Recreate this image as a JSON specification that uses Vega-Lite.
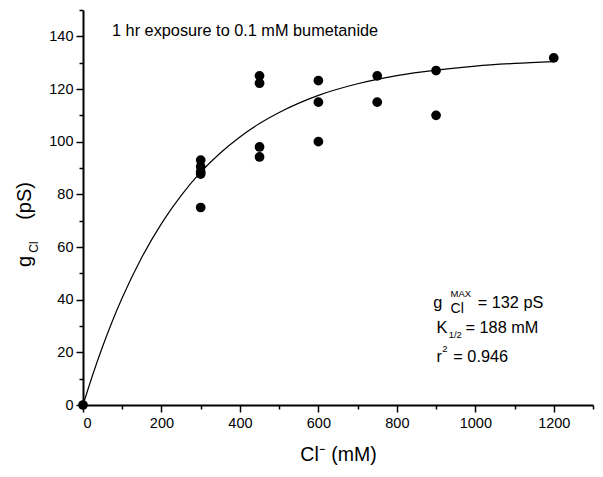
{
  "$schema": "https://vega.github.io/schema/vega-lite/v6.json",
  "width": 510,
  "height": 395,
  "autosize": "none",
  "padding": {"left": 83, "top": 10, "right": 10, "bottom": 72},
  "background": "white",
  "config": {"view": {"stroke": null}, "font": "Liberation Sans"},
  "datasets": {
    "pts": [
      {"cl": 0, "g": 0},
      {"cl": 300, "g": 93}, {"cl": 300, "g": 90.5}, {"cl": 300, "g": 88.5}, {"cl": 300, "g": 87.7}, {"cl": 300, "g": 75},
      {"cl": 450, "g": 125}, {"cl": 450, "g": 122.2}, {"cl": 450, "g": 98}, {"cl": 450, "g": 94.2},
      {"cl": 600, "g": 123.2}, {"cl": 600, "g": 115}, {"cl": 600, "g": 100},
      {"cl": 750, "g": 125}, {"cl": 750, "g": 115},
      {"cl": 900, "g": 127}, {"cl": 900, "g": 110},
      {"cl": 1200, "g": 131.8}
    ],
    "fit": [
      {"cl": 0, "g": 0}, {"cl": 25, "g": 11.6}, {"cl": 50, "g": 22.2}, {"cl": 75, "g": 31.9},
      {"cl": 100, "g": 40.7}, {"cl": 150, "g": 56.1}, {"cl": 200, "g": 68.9}, {"cl": 250, "g": 79.5},
      {"cl": 300, "g": 88.4}, {"cl": 350, "g": 95.7}, {"cl": 400, "g": 101.8}, {"cl": 450, "g": 106.9},
      {"cl": 500, "g": 111.1}, {"cl": 600, "g": 117.6}, {"cl": 700, "g": 122.0}, {"cl": 800, "g": 125.1},
      {"cl": 900, "g": 127.2}, {"cl": 1000, "g": 128.7}, {"cl": 1100, "g": 129.7}, {"cl": 1200, "g": 130.4}
    ],
    "ann": [
      {"kind": "main", "cl": 74, "g": 140, "t": "1 hr exposure to 0.1 mM bumetanide"},
      {"kind": "main", "cl": 893, "g": 36.8, "t": "g"},
      {"kind": "main", "cl": 1006, "g": 36.8, "t": "= 132 pS"},
      {"kind": "main", "cl": 901, "g": 27.3, "t": "K"},
      {"kind": "main", "cl": 975, "g": 27.3, "t": "= 188 mM"},
      {"kind": "main", "cl": 901, "g": 16.3, "t": "r"},
      {"kind": "main", "cl": 944, "g": 16.3, "t": "= 0.946"},
      {"kind": "mid", "cl": 937, "g": 34.9, "t": "Cl"},
      {"kind": "small", "cl": 937, "g": 41.0, "t": "MAX"},
      {"kind": "small", "cl": 932, "g": 25.4, "t": "1/2"},
      {"kind": "small", "cl": 916, "g": 20.1, "t": "2"}
    ],
    "ytitle": [
      {"kind": "big", "cl": -148, "g": 54.5, "t": "g"},
      {"kind": "sub", "cl": -126, "g": 60, "t": "Cl"},
      {"kind": "big", "cl": -148, "g": 77.5, "t": "(pS)"}
    ]
  },
  "layer": [
    {
      "data": {"name": "fit"},
      "mark": {"type": "line", "color": "black", "strokeWidth": 1.2, "interpolate": "monotone"},
      "encoding": {
        "x": {"field": "cl", "type": "quantitative", "scale": {"domain": [0, 1300], "nice": false},
          "axis": {"orient": "bottom", "values": [100, 300, 500, 700, 900, 1100, 1300], "labels": false, "domain": false, "grid": false, "ticks": true, "tickSize": 4, "tickWidth": 1.5, "tickColor": "black", "title": null}},
        "y": {"field": "g", "type": "quantitative", "scale": {"domain": [0, 150], "nice": false},
          "axis": {"orient": "left", "values": [10, 30, 50, 70, 90, 110, 130, 150], "labels": false, "domain": false, "grid": false, "tickSize": 4, "tickWidth": 1.5, "tickColor": "black", "title": null}}
      }
    },
    {
      "data": {"name": "pts"},
      "mark": {"type": "point", "filled": true, "color": "black", "opacity": 1, "size": 95, "shape": "circle"},
      "encoding": {
        "x": {"field": "cl", "type": "quantitative",
          "axis": {"orient": "bottom", "values": [0, 200, 400, 600, 800, 1000, 1200], "format": "d", "grid": false, "domainColor": "black", "domainWidth": 2, "tickColor": "black", "tickWidth": 1.5, "tickSize": 7, "labelFontSize": 14.5, "labelColor": "black", "labelPadding": 4, "title": "Cl⁻ (mM)", "titleFontSize": 19.5, "titleFontWeight": "normal", "titleColor": "black", "titlePadding": 16}},
        "y": {"field": "g", "type": "quantitative",
          "axis": {"orient": "left", "values": [0, 20, 40, 60, 80, 100, 120, 140], "format": "d", "grid": false, "domainColor": "black", "domainWidth": 2, "tickColor": "black", "tickWidth": 1.5, "tickSize": 7, "labelFontSize": 14.5, "labelColor": "black", "labelPadding": 3, "title": null}}
      }
    },
    {
      "data": {"name": "ann"},
      "transform": [{"filter": "datum.kind == 'main'"}],
      "mark": {"type": "text", "align": "left", "baseline": "alphabetic", "fontSize": 16.3, "color": "black"},
      "encoding": {
        "x": {"field": "cl", "type": "quantitative", "axis": null},
        "y": {"field": "g", "type": "quantitative", "axis": null},
        "text": {"field": "t"}
      }
    },
    {
      "data": {"name": "ann"},
      "transform": [{"filter": "datum.kind == 'mid'"}],
      "mark": {"type": "text", "align": "left", "baseline": "alphabetic", "fontSize": 14, "color": "black"},
      "encoding": {
        "x": {"field": "cl", "type": "quantitative", "axis": null},
        "y": {"field": "g", "type": "quantitative", "axis": null},
        "text": {"field": "t"}
      }
    },
    {
      "data": {"name": "ann"},
      "transform": [{"filter": "datum.kind == 'small'"}],
      "mark": {"type": "text", "align": "left", "baseline": "alphabetic", "fontSize": 9.5, "color": "black"},
      "encoding": {
        "x": {"field": "cl", "type": "quantitative", "axis": null},
        "y": {"field": "g", "type": "quantitative", "axis": null},
        "text": {"field": "t"}
      }
    },
    {
      "data": {"name": "ytitle"},
      "transform": [{"filter": "datum.kind == 'big'"}],
      "mark": {"type": "text", "align": "center", "baseline": "middle", "angle": 270, "fontSize": 20, "color": "black", "clip": false},
      "encoding": {
        "x": {"field": "cl", "type": "quantitative", "axis": null},
        "y": {"field": "g", "type": "quantitative", "axis": null},
        "text": {"field": "t"}
      }
    },
    {
      "data": {"name": "ytitle"},
      "transform": [{"filter": "datum.kind == 'sub'"}],
      "mark": {"type": "text", "align": "center", "baseline": "middle", "angle": 270, "fontSize": 12, "color": "black", "clip": false},
      "encoding": {
        "x": {"field": "cl", "type": "quantitative", "axis": null},
        "y": {"field": "g", "type": "quantitative", "axis": null},
        "text": {"field": "t"}
      }
    }
  ],
  "resolve": {"axis": {"x": "independent", "y": "independent"}}
}
